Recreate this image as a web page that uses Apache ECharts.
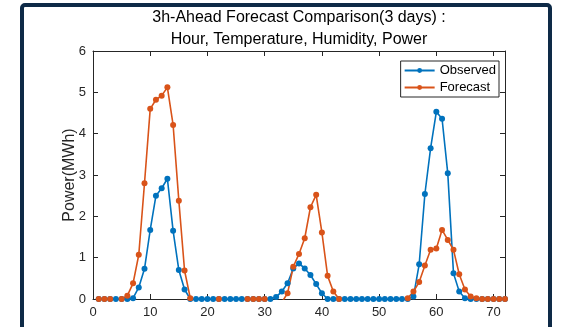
<!DOCTYPE html>
<html>
<head>
<meta charset="utf-8">
<script src="https://cdn.jsdelivr.net/npm/echarts@6/dist/echarts.min.js"></script>
<style>
  html, body { margin: 0; padding: 0; background: #fff; }
  #chart { width: 562px; height: 327px; }
</style>
</head>
<body>
<div id="chart"></div>
<script>
// Hourly power over three days (hours 1..72), MWh
const hours = Array.from({ length: 72 }, (_, i) => i + 1);

const observed = [
  0, 0, 0, 0, 0, 0, 0.02, 0.28, 0.73, 1.67, 2.50, 2.68,
  2.91, 1.65, 0.70, 0.23, 0, 0, 0, 0, 0, 0, 0, 0,
  0, 0, 0, 0, 0, 0, 0, 0.05, 0.18, 0.38, 0.74, 0.86,
  0.74, 0.58, 0.36, 0.14, 0, 0, 0, 0, 0, 0, 0, 0,
  0, 0, 0, 0, 0, 0, 0, 0.06, 0.84, 2.54, 3.65, 4.53,
  4.36, 3.04, 0.62, 0.18, 0.02, 0, 0, 0, 0, 0, 0, 0
];

// slightly negative model output at night falls below the axis and is clipped
const forecast = [
  0, 0, 0, -0.08, 0, 0.08, 0.38, 1.07, 2.80, 4.60, 4.82, 4.92,
  5.12, 4.21, 2.38, 0.69, 0.02, -0.08, -0.08, -0.08, -0.08, 0, -0.08, -0.08,
  -0.08, -0.08, 0, 0, 0, 0, -0.08, -0.08, -0.08, 0.14, 0.78, 1.09,
  1.47, 2.22, 2.52, 1.61, 0.56, 0.18, 0, -0.08, -0.08, -0.08, -0.08, -0.08,
  -0.08, -0.08, -0.08, -0.08, -0.08, -0.08, 0.02, 0.18, 0.41, 0.81, 1.19, 1.22,
  1.67, 1.43, 1.19, 0.60, 0.23, 0.06, 0.02, 0, 0, 0, 0, 0
];

const xTicks = { min: 0, max: 72, interval: 10 };
const yTicks = { min: 0, max: 6, interval: 1 };

const axisColor = '#262626';
const fontFamily = '"Liberation Sans", Arial, sans-serif';

const toPairs = (ys) => hours.map((h, i) => [h, ys[i]]);

const chart = echarts.init(document.getElementById('chart'), null, { renderer: 'canvas' });

const boxAxis = {
  axisLine: { show: true, onZero: false, lineStyle: { color: axisColor, width: 1 } },
  axisTick: { show: true, inside: true, length: 5, lineStyle: { color: axisColor } },
  splitLine: { show: false }
};

chart.setOption({
  animation: false,
  backgroundColor: '#fff',
  textStyle: { fontFamily },
  graphic: [{
    type: 'rect',
    shape: { x: 22, y: 5, width: 528, height: 340, r: 3 },
    style: { fill: 'none', stroke: '#0e2a47', lineWidth: 4 },
    silent: true,
    z: -1
  }],
  title: {
    text: '3h-Ahead Forecast Comparison(3 days) :\nHour, Temperature, Humidity, Power',
    left: 299,
    textAlign: 'center',
    top: 7,
    padding: 0,
    textStyle: { fontSize: 16, fontWeight: 'normal', color: '#000', lineHeight: 22, fontFamily }
  },
  legend: {
    orient: 'vertical',
    right: 63,
    top: 61,
    backgroundColor: '#fff',
    borderColor: axisColor,
    borderWidth: 1,
    padding: [3, 3, 3, 3],
    itemGap: 4,
    itemWidth: 30,
    itemHeight: 6,
    textStyle: { fontSize: 13, color: '#000', fontFamily },
    data: ['Observed', 'Forecast']
  },
  grid: { left: 93, right: 57, top: 51, bottom: 28, containLabel: false },
  xAxis: [
    Object.assign({
      type: 'value', position: 'bottom',
      min: xTicks.min, max: xTicks.max, interval: xTicks.interval,
      axisLabel: {
        color: axisColor, fontSize: 13, margin: 7, fontFamily,
        formatter: (v) => (v % xTicks.interval === 0 ? String(v) : '')
      }
    }, boxAxis),
    Object.assign({
      type: 'value', position: 'top',
      min: xTicks.min, max: xTicks.max, interval: xTicks.interval,
      axisLabel: { show: false }
    }, boxAxis)
  ],
  yAxis: [
    Object.assign({
      type: 'value', position: 'left',
      min: yTicks.min, max: yTicks.max, interval: yTicks.interval,
      name: 'Power(MWh)', nameLocation: 'middle', nameGap: 15, nameMoveOverlap: false,
      nameTextStyle: { fontSize: 16, color: axisColor, fontFamily },
      axisLabel: { color: axisColor, fontSize: 13, margin: 7, fontFamily }
    }, boxAxis),
    Object.assign({
      type: 'value', position: 'right',
      min: yTicks.min, max: yTicks.max, interval: yTicks.interval,
      axisLabel: { show: false }
    }, boxAxis)
  ],
  series: [
    {
      name: 'Observed', type: 'line', xAxisIndex: 0, yAxisIndex: 0,
      data: toPairs(observed), clip: true,
      symbol: 'circle', symbolSize: 6, showAllSymbol: true,
      itemStyle: { color: '#0072BD' },
      lineStyle: { color: '#0072BD', width: 1.6 }
    },
    {
      name: 'Forecast', type: 'line', xAxisIndex: 0, yAxisIndex: 0,
      data: toPairs(forecast), clip: true,
      symbol: 'circle', symbolSize: 6, showAllSymbol: true,
      itemStyle: { color: '#D95319' },
      lineStyle: { color: '#D95319', width: 1.6 }
    }
  ]
});
</script>
</body>
</html>
